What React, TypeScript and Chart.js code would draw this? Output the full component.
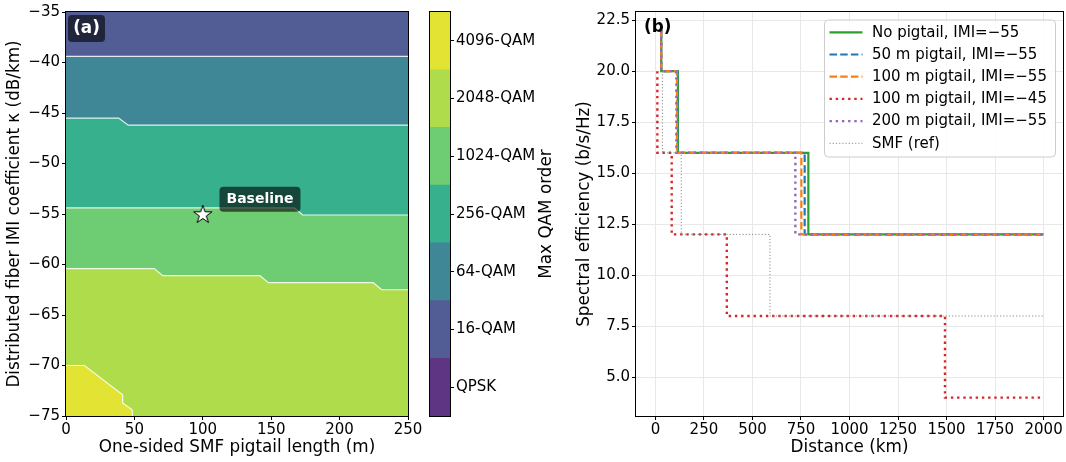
import React, { useEffect, useRef } from 'react';
import { Chart, registerables } from 'chart.js';

Chart.register(...registerables);

const FONT = '"DejaVu Sans", "Liberation Sans", sans-serif';
const MINUS = '\u2212';

// ---------------- Panel (a): contour map ----------------
const pigtailTicks = [0, 50, 100, 150, 200, 250];
const imiTicks = [-75, -70, -65, -60, -55, -50, -45, -40, -35];
const qamLabels = ['QPSK', '16-QAM', '64-QAM', '256-QAM', '1024-QAM', '2048-QAM', '4096-QAM'];
const qamColors = ['#5d3582', '#525d96', '#3f8696', '#37b08e', '#6ecc73', '#afdc4b', '#e2e333'];

// top of map (16-QAM region begins here)
const regionTopX = [0, 250];
const regionTopY = [-35, -35];
// contour boundaries between regions (pigtail m, IMI dB/km)
const contour16to64X = [0, 250];
const contour16to64Y = [-39.4, -39.4];
const contour64to256X = [0, 38.5, 45.5, 250];
const contour64to256Y = [-45.5, -45.5, -46.2, -46.2];
const contour256to1024X = [0, 167, 173, 250];
const contour256to1024Y = [-54.4, -54.4, -55.1, -55.1];
const contour1024to2048X = [0, 64.5, 70.7, 141.8, 147.9, 224.6, 230.8, 250];
const contour1024to2048Y = [-60.4, -60.4, -61.1, -61.1, -61.8, -61.8, -62.5, -62.5];
const contour2048to4096X = [0, 13.5, 41.4, 41.4, 48.5, 48.5];
const contour2048to4096Y = [-70.0, -70.0, -72.9, -73.7, -74.4, -75];

const baselinePigtail = 100;
const baselineImi = -55;
const baselineText = 'Baseline';
const baselineTextPos = { x: 141.8, y: -53.55 };

// ---------------- Panel (b): step curves ----------------
const distanceTicks = [0, 250, 500, 750, 1000, 1250, 1500, 1750, 2000];
const seTicks = [5, 7.5, 10, 12.5, 15, 17.5, 20, 22.5];
const seriesNames = [
  `No pigtail, IMI=${MINUS}55`,
  `50 m pigtail, IMI=${MINUS}55`,
  `100 m pigtail, IMI=${MINUS}55`,
  `100 m pigtail, IMI=${MINUS}45`,
  `200 m pigtail, IMI=${MINUS}55`,
  'SMF (ref)',
];
const seriesColors = ['#2ca02c', '#1f77b4', '#ff7f0e', '#d62728', '#9467bd', '#8a8a8a'];

// reach (km) at which each spectral-efficiency level ends
const noPigtailKm = [30, 116, 788, 2000];
const noPigtailSE = [22, 20, 16, 12];
const pig50Km = [30, 113, 769, 2000];
const pig50SE = [22, 20, 16, 12];
const pig100Km = [30, 111, 752, 2000];
const pig100SE = [22, 20, 16, 12];
const pig100Imi45Km = [10, 84, 368, 1492, 2000];
const pig100Imi45SE = [20, 16, 12, 8, 4];
const pig200Km = [30, 108, 721, 2000];
const pig200SE = [22, 20, 16, 12];
const smfKm = [36, 133, 590, 2000];
const smfSE = [20, 16, 12, 8];

function stepPoints(km: number[], se: number[]) {
  const pts: { x: number; y: number }[] = [];
  for (let i = 0; i < km.length; i++) {
    pts.push({ x: km[i], y: se[i] });
    if (i + 1 < se.length) pts.push({ x: km[i], y: se[i + 1] });
  }
  return pts;
}

const fmtMinus = (v: number) => String(v).replace('-', MINUS);

function roundRect(ctx: CanvasRenderingContext2D, x: number, y: number, w: number, h: number, r: number) {
  ctx.beginPath();
  ctx.moveTo(x + r, y);
  ctx.lineTo(x + w - r, y);
  ctx.arcTo(x + w, y, x + w, y + r, r);
  ctx.lineTo(x + w, y + h - r);
  ctx.arcTo(x + w, y + h, x + w - r, y + h, r);
  ctx.lineTo(x + r, y + h);
  ctx.arcTo(x, y + h, x, y + h - r, r);
  ctx.lineTo(x, y + r);
  ctx.arcTo(x, y, x + r, y, r);
  ctx.closePath();
}

function makeStar(): HTMLCanvasElement {
  const c = document.createElement('canvas');
  c.width = 22;
  c.height = 22;
  const g = c.getContext('2d')!;
  const R = 9.6;
  const r = R * 0.382;
  g.beginPath();
  for (let k = 0; k < 10; k++) {
    const a = -Math.PI / 2 + (k * Math.PI) / 5;
    const rad = k % 2 === 0 ? R : r;
    const px = 11 + rad * Math.cos(a);
    const py = 11.8 + rad * Math.sin(a);
    if (k === 0) g.moveTo(px, py);
    else g.lineTo(px, py);
  }
  g.closePath();
  g.fillStyle = '#ffffff';
  g.fill();
  g.strokeStyle = '#000000';
  g.lineWidth = 1;
  g.stroke();
  return c;
}

const framePlugin = {
  id: 'frame',
  afterDatasetsDraw(chart: any) {
    const { ctx, chartArea } = chart;
    const { left, top, right, bottom } = chartArea;
    ctx.save();
    ctx.strokeStyle = '#000';
    ctx.lineWidth = 1;
    ctx.strokeRect(Math.round(left) - 0.5, Math.round(top) - 0.5, Math.round(right - left) + 1, Math.round(bottom - top) + 1);
    ctx.restore();
  },
};

const panelAPlugin = {
  id: 'panelA',
  afterDraw(chart: any) {
    const { ctx, chartArea, scales } = chart;
    ctx.save();
    // (a) label
    roundRect(ctx, chartArea.left + 2, chartArea.top + 3, 37, 27, 4);
    ctx.fillStyle = 'rgba(0,0,0,0.6)';
    ctx.fill();
    ctx.fillStyle = '#fff';
    ctx.font = `bold 16.8px ${FONT}`;
    ctx.textAlign = 'center';
    ctx.textBaseline = 'middle';
    ctx.fillText('(a)', chartArea.left + 20.5, chartArea.top + 16.5);
    // Baseline annotation
    const cx = scales.x.getPixelForValue(baselineTextPos.x);
    const cy = scales.y.getPixelForValue(baselineTextPos.y);
    ctx.font = `bold 14px ${FONT}`;
    const w = ctx.measureText(baselineText).width + 14;
    const h = 25;
    roundRect(ctx, cx - w / 2, cy - h / 2, w, h, 4);
    ctx.fillStyle = 'rgba(0,0,0,0.6)';
    ctx.fill();
    ctx.fillStyle = '#fff';
    ctx.fillText(baselineText, cx, cy);
    ctx.restore();
  },
};

const panelBPlugin = {
  id: 'panelB',
  afterDraw(chart: any) {
    const { ctx, chartArea } = chart;
    ctx.save();
    // legend
    const w = 231;
    const h = 137;
    const x0 = chartArea.right - 7.5 - w;
    const y0 = chartArea.top + 8;
    roundRect(ctx, x0, y0, w, h, 4);
    ctx.fillStyle = 'rgba(255,255,255,0.8)';
    ctx.fill();
    ctx.strokeStyle = '#cccccc';
    ctx.lineWidth = 1;
    ctx.stroke();
    chart.data.datasets.forEach((ds: any, i: number) => {
      const cy = y0 + 12.3 + i * 22.2;
      ctx.beginPath();
      ctx.setLineDash(ds.borderDash || []);
      ctx.lineCap = 'butt';
      ctx.strokeStyle = ds.borderColor;
      ctx.lineWidth = ds.borderWidth;
      ctx.moveTo(x0 + 5, cy);
      ctx.lineTo(x0 + 38, cy);
      ctx.stroke();
      ctx.setLineDash([]);
      ctx.fillStyle = '#000';
      ctx.font = `15px ${FONT}`;
      ctx.textAlign = 'left';
      ctx.textBaseline = 'middle';
      ctx.fillText(ds.label, x0 + 47.5, cy + 0.5);
    });
    // (b) label
    ctx.fillStyle = '#000';
    ctx.font = `bold 16.8px ${FONT}`;
    ctx.textAlign = 'left';
    ctx.textBaseline = 'middle';
    ctx.fillText('(b)', chartArea.left + 8, chartArea.top + 15.5);
    ctx.restore();
  },
};

const colorbarPlugin = {
  id: 'cbLabel',
  afterDraw(chart: any) {
    const { ctx, chartArea } = chart;
    ctx.save();
    ctx.translate(chartArea.right + 97, (chartArea.top + chartArea.bottom) / 2);
    ctx.rotate(-Math.PI / 2);
    ctx.fillStyle = '#000';
    ctx.font = `16.8px ${FONT}`;
    ctx.textAlign = 'center';
    ctx.textBaseline = 'middle';
    ctx.fillText('Max QAM order', 0, 0);
    ctx.restore();
  },
};

const tickFont = { family: FONT, size: 15 };
const titleFont = { family: FONT, size: 16.8 };

export default function App() {
  const aRef = useRef<HTMLCanvasElement>(null);
  const cRef = useRef<HTMLCanvasElement>(null);
  const bRef = useRef<HTMLCanvasElement>(null);

  useEffect(() => {
    Chart.defaults.font.family = FONT;
    Chart.defaults.color = '#000';
    const star = makeStar();

    const regions = [
      { x: regionTopX, y: regionTopY, color: qamColors[1] },
      { x: contour16to64X, y: contour16to64Y, color: qamColors[2] },
      { x: contour64to256X, y: contour64to256Y, color: qamColors[3] },
      { x: contour256to1024X, y: contour256to1024Y, color: qamColors[4] },
      { x: contour1024to2048X, y: contour1024to2048Y, color: qamColors[5] },
      { x: contour2048to4096X, y: contour2048to4096Y, color: qamColors[6] },
    ];

    const chartA = new Chart(aRef.current!, {
      type: 'line',
      data: {
        datasets: [
          ...regions.map((r, i) => ({
            label: 'region' + i,
            data: r.x.map((x, j) => ({ x, y: r.y[j] })),
            borderColor: i === 0 ? 'rgba(0,0,0,0)' : 'rgba(255,255,255,0.85)',
            borderWidth: i === 0 ? 0 : 1.2,
            backgroundColor: r.color,
            fill: 'start',
            pointRadius: 0,
            tension: 0,
            order: 20 - i,
          })),
          {
            label: 'baseline',
            data: [{ x: baselinePigtail, y: baselineImi }],
            showLine: false,
            pointStyle: star as any,
            pointRadius: 10,
            order: 0,
          } as any,
        ],
      },
      options: {
        animation: false,
        responsive: false,
        devicePixelRatio: 1,
        events: [],
        layout: { padding: { left: 0, top: 12, right: 32, bottom: 0 } },
        plugins: { legend: { display: false }, tooltip: { enabled: false } },
        scales: {
          x: {
            type: 'linear',
            min: pigtailTicks[0],
            max: pigtailTicks[pigtailTicks.length - 1],
            afterBuildTicks: (s: any) => { s.ticks = pigtailTicks.map((v) => ({ value: v })); },
            afterFit: (s: any) => { s.height = 46; },
            ticks: { font: tickFont, color: '#000', padding: 1, maxRotation: 0, callback: (v: any) => fmtMinus(v) },
            grid: { drawOnChartArea: false, tickLength: 4, tickColor: '#000', color: '#000' },
            border: { display: false },
            title: { display: true, text: 'One-sided SMF pigtail length (m)', font: titleFont, color: '#000', padding: { top: 0, bottom: 4 } },
          },
          y: {
            type: 'linear',
            min: imiTicks[0],
            max: imiTicks[imiTicks.length - 1],
            afterBuildTicks: (s: any) => { s.ticks = imiTicks.map((v) => ({ value: v })); },
            afterFit: (s: any) => { s.width = 66; },
            ticks: { font: tickFont, color: '#000', padding: 2, callback: (v: any) => fmtMinus(v) },
            grid: { drawOnChartArea: false, tickLength: 4, tickColor: '#000', color: '#000' },
            border: { display: false },
            title: { display: true, text: 'Distributed fiber IMI coefficient \u03ba (dB/km)', font: titleFont, color: '#000', padding: { top: 5, bottom: 0 } },
          },
        },
      } as any,
      plugins: [framePlugin, panelAPlugin],
    });

    const chartC = new Chart(cRef.current!, {
      type: 'bar',
      data: {
        labels: [''],
        datasets: qamLabels.map((l, i) => ({
          label: l,
          data: [1],
          backgroundColor: qamColors[i],
          borderWidth: 0,
          barPercentage: 1,
          categoryPercentage: 1,
        })),
      },
      options: {
        animation: false,
        responsive: false,
        devicePixelRatio: 1,
        events: [],
        layout: { padding: { left: 10, top: 12, right: 0, bottom: 46 } },
        plugins: { legend: { display: false }, tooltip: { enabled: false } },
        scales: {
          x: { display: false, stacked: true },
          y: {
            stacked: true,
            position: 'right',
            min: 0,
            max: qamLabels.length,
            afterBuildTicks: (s: any) => { s.ticks = qamLabels.map((_, i) => ({ value: i + 0.5 })); },
            afterFit: (s: any) => { s.width = 116; },
            ticks: { font: tickFont, color: '#000', padding: 2, callback: (_v: any, i: number) => qamLabels[i] },
            grid: { drawOnChartArea: false, tickLength: 4, tickColor: '#000', color: '#000' },
            border: { display: false },
          },
        },
      } as any,
      plugins: [framePlugin, colorbarPlugin],
    });

    const seriesData = [
      { km: noPigtailKm, se: noPigtailSE, width: 2.2, dash: [] as number[] },
      { km: pig50Km, se: pig50SE, width: 2.2, dash: [7.5, 3.2] },
      { km: pig100Km, se: pig100SE, width: 2.2, dash: [7.5, 3.2] },
      { km: pig100Imi45Km, se: pig100Imi45SE, width: 2.4, dash: [2.4, 3.8] },
      { km: pig200Km, se: pig200SE, width: 2.4, dash: [2.4, 3.8] },
      { km: smfKm, se: smfSE, width: 1, dash: [1.2, 2] },
    ];

    const chartB = new Chart(bRef.current!, {
      type: 'line',
      data: {
        datasets: seriesData.map((s, i) => ({
          label: seriesNames[i],
          data: stepPoints(s.km, s.se),
          borderColor: seriesColors[i],
          borderWidth: s.width,
          borderDash: s.dash,
          borderCapStyle: 'butt',
          borderJoinStyle: 'miter',
          pointRadius: 0,
          fill: false,
          tension: 0,
          order: seriesData.length - i,
        })) as any,
      },
      options: {
        animation: false,
        responsive: false,
        devicePixelRatio: 1,
        events: [],
        layout: { padding: { left: 0, top: 12, right: 3, bottom: 0 } },
        plugins: { legend: { display: false }, tooltip: { enabled: false } },
        scales: {
          x: {
            type: 'linear',
            min: -100,
            max: 2100,
            afterBuildTicks: (s: any) => { s.ticks = distanceTicks.map((v) => ({ value: v })); },
            afterFit: (s: any) => { s.height = 46; },
            ticks: { font: tickFont, color: '#000', padding: 1, maxRotation: 0, callback: (v: any) => String(v) },
            grid: { color: '#e8e8e8', tickLength: 4, tickColor: '#000', lineWidth: 1 },
            border: { display: false },
            title: { display: true, text: 'Distance (km)', font: titleFont, color: '#000', padding: { top: 0, bottom: 4 } },
          },
          y: {
            type: 'linear',
            min: 3.1,
            max: 22.9,
            afterBuildTicks: (s: any) => { s.ticks = seTicks.map((v) => ({ value: v })); },
            afterFit: (s: any) => { s.width = 76; },
            ticks: { font: tickFont, color: '#000', padding: 2, callback: (v: any) => Number(v).toFixed(1) },
            grid: { color: '#e8e8e8', tickLength: 4, tickColor: '#000', lineWidth: 1 },
            border: { display: false },
            title: { display: true, text: 'Spectral efficiency (b/s/Hz)', font: titleFont, color: '#000', padding: { top: 15, bottom: 0 } },
          },
        },
      } as any,
      plugins: [framePlugin, panelBPlugin],
    });

    return () => {
      chartA.destroy();
      chartC.destroy();
      chartB.destroy();
    };
  }, []);

  return (
    <div style={{ position: 'absolute', left: 0, top: 0, width: 1066, height: 462, background: '#fff', overflow: 'hidden' }}>
      <canvas ref={aRef} width={440} height={462} style={{ position: 'absolute', left: 0, top: 0, width: 440, height: 462 }} />
      <canvas ref={cRef} width={146} height={462} style={{ position: 'absolute', left: 420, top: 0, width: 146, height: 462 }} />
      <canvas ref={bRef} width={506} height={462} style={{ position: 'absolute', left: 560, top: 0, width: 506, height: 462 }} />
    </div>
  );
}
